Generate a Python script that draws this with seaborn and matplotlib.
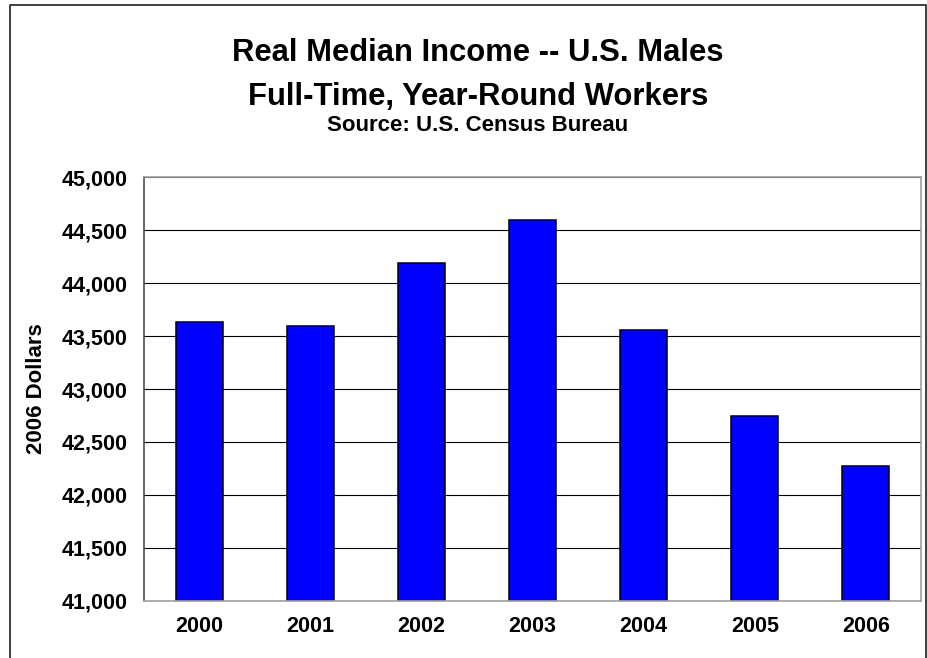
import matplotlib
matplotlib.use("Agg")
import matplotlib.pyplot as plt
import seaborn as sns
import pandas as pd
from matplotlib.lines import Line2D
from matplotlib.ticker import FuncFormatter, FixedLocator

# data
years = ["2000", "2001", "2002", "2003", "2004", "2005", "2006"]
income = [43630, 43595, 44190, 44600, 43555, 42745, 42270]

y_ticks = [41000, 41500, 42000, 42500, 43000, 43500, 44000, 44500, 45000]

sns.set_style("white")
plt.rcParams["font.family"] = ["Liberation Sans", "DejaVu Sans"]
plt.rcParams["font.weight"] = "bold"
plt.rcParams["text.color"] = "black"
plt.rcParams["axes.labelcolor"] = "black"
plt.rcParams["xtick.color"] = "black"
plt.rcParams["ytick.color"] = "black"

df = pd.DataFrame({"year": years, "income": income})

fig = plt.figure(figsize=(9.27, 6.58), dpi=100)
ax = fig.add_axes([0.1553, 0.0871, 0.8386, 0.6434])

sns.barplot(data=df, x="year", y="income", color="#0000FF", saturation=1,
            edgecolor="black", linewidth=1.1, width=0.42, ax=ax)

ax.set_ylim(41000, 45000)
ax.set_xlim(-0.5, len(years) - 0.5)
ax.set_yticks(y_ticks)
ax.yaxis.set_major_formatter(FuncFormatter(lambda v, p: f"{int(v):,}"))
ax.yaxis.grid(True, color="black", linewidth=0.8)
ax.set_axisbelow(True)

# category ticks sit between bars, like the original
ax.xaxis.set_minor_locator(FixedLocator([i - 0.5 for i in range(len(years) + 1)]))
ax.tick_params(axis="x", which="major", length=0, pad=11, labelsize=15.5)
ax.tick_params(axis="x", which="minor", length=4, width=0.8, color="#606060", direction="out")
ax.tick_params(axis="y", length=4.5, width=0.8, color="#404040", direction="out", pad=7, labelsize=15.5)
for lab in ax.get_xticklabels() + ax.get_yticklabels():
    lab.set_fontweight("bold")

ax.set_xlabel("")
ax.set_ylabel("2006 Dollars", fontsize=16, fontweight="bold")
ax.yaxis.set_label_coords(-0.125, 0.5)

for side in ["top", "right", "bottom"]:
    ax.spines[side].set_color("#a0a0a0")
    ax.spines[side].set_linewidth(1.2)
ax.spines["left"].set_color("#505050")
ax.spines["left"].set_linewidth(1.2)

fig.text(0.5155, 0.9073, "Real Median Income -- U.S. Males", ha="center", va="baseline",
         fontsize=22.3, fontweight="bold")
fig.text(0.5155, 0.8404, "Full-Time, Year-Round Workers", ha="center", va="baseline",
         fontsize=22.3, fontweight="bold")
fig.text(0.5155, 0.8009, "Source: U.S. Census Bureau", ha="center", va="baseline",
         fontsize=16, fontweight="bold")

# outer chart frame (left, top, right)
fx = [10 / 927, 10 / 927, 926 / 927, 926 / 927]
fy = [0, 1 - 5 / 658, 1 - 5 / 658, 0]
fig.add_artist(Line2D(fx, fy, color="#303030", linewidth=1.3, transform=fig.transFigure))

fig.savefig("out.png", dpi=100)
